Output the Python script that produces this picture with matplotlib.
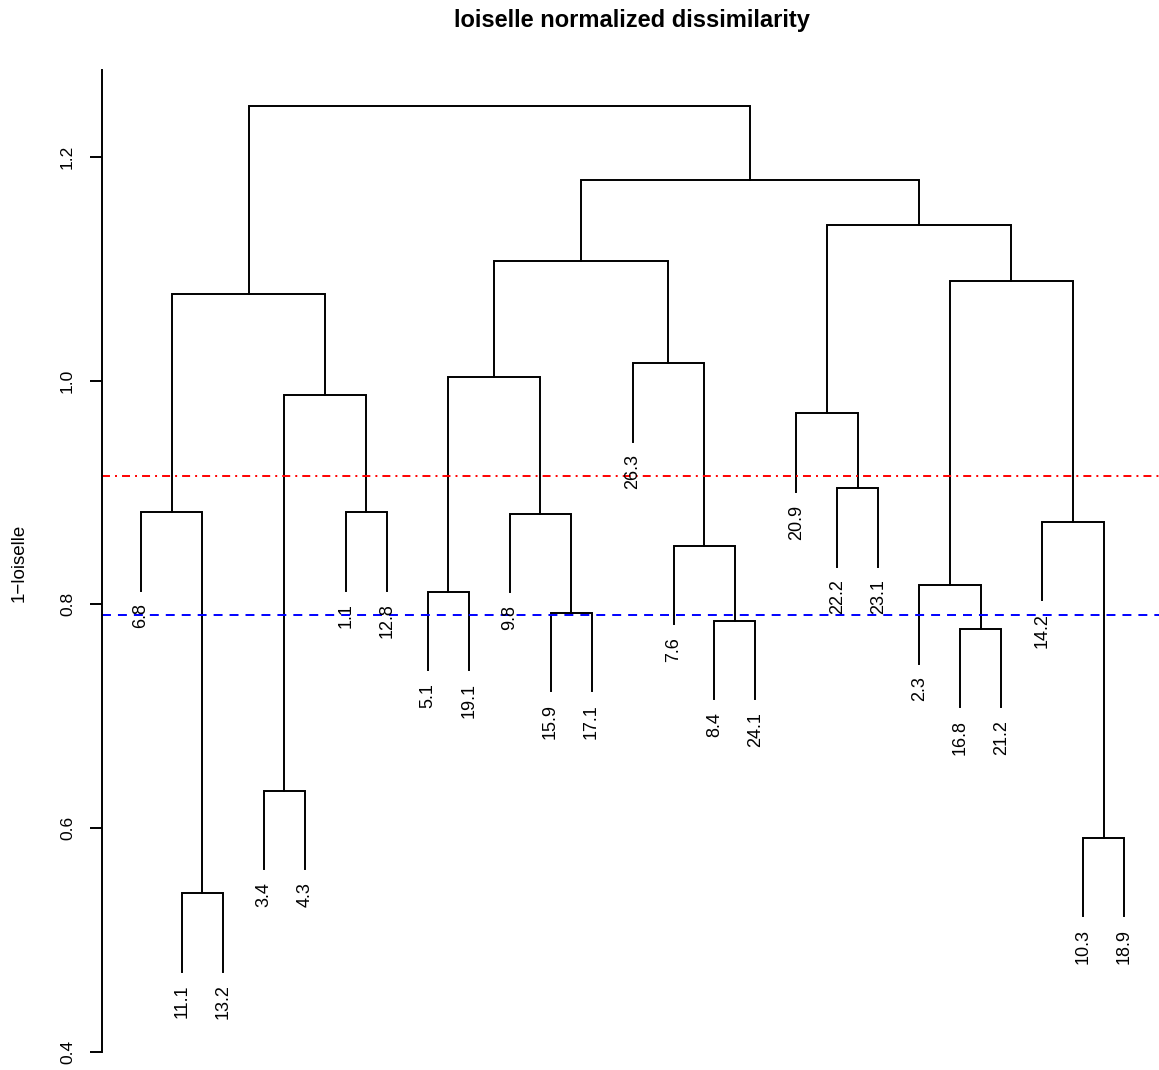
import matplotlib.pyplot as plt

plt.rcParams['font.family'] = ['Liberation Sans', 'DejaVu Sans']

# leaf labels in dendrogram order (leaf k sits at x = k)
labels = ['6.8', '11.1', '13.2', '3.4', '4.3', '1.1', '12.8', '5.1', '19.1',
          '9.8', '15.9', '17.1', '26.3', '7.6', '8.4', '24.1', '20.9', '22.2',
          '23.1', '2.3', '16.8', '21.2', '14.2', '10.3', '18.9']

# merge table, R style: negative = leaf, positive = earlier merge (1-based)
merge_a = [-2, -24, -4, -21, -15, -11, -8, -20, -14, -23, -10, -1,
           -6, -18, -17, 3, 7, -13, 12, 8, 17, 15, 21, 19]
merge_b = [-3, -25, -5, -22, -16, -12, -9, 4, 5, 2, 6, 1,
           -7, -19, 14, 13, 11, 9, 16, 10, 18, 20, 22, 23]
heights = [0.542, 0.5916, 0.6335, 0.7783, 0.7854, 0.7926, 0.8114, 0.8173,
           0.8525, 0.8739, 0.881, 0.8826, 0.8826, 0.9037, 0.9708, 0.9871,
           1.0029, 1.0155, 1.0771, 1.0893, 1.1071, 1.139, 1.1793, 1.2454]

cut_high = 0.915
cut_low = 0.7905

yticks = [0.4, 0.6, 0.8, 1.0, 1.2]
ytick_labels = ['0.4', '0.6', '0.8', '1.0', '1.2']

hang = 0.1 * (max(heights) - min(heights))

fig = plt.figure(figsize=(11.59, 10.70), dpi=100)
ax = fig.add_axes([0.0881, 0.0011, 0.9118, 0.9674])
ax.set_xlim(0.05, 25.85)
ax.set_ylim(0.385, 1.31)

node_x = {}


def child_pos(c, parent_h):
    if c < 0:
        return -c, parent_h - hang
    return node_x[c], heights[c - 1]


lw = 1.4
for i, (a, b, h) in enumerate(zip(merge_a, merge_b, heights), start=1):
    xa, ya = child_pos(a, h)
    xb, yb = child_pos(b, h)
    ax.plot([xa, xa, xb, xb], [ya, h, h, yb], color='black', lw=lw,
            solid_joinstyle='miter', clip_on=False)
    node_x[i] = (xa + xb) / 2
    for c, y in ((a, ya), (b, yb)):
        if c < 0:
            ax.annotate(labels[-c - 1], (-c, y), xytext=(0, -9),
                        textcoords='offset points', rotation=90,
                        ha='center', va='top', fontsize=13)

ax.axhline(cut_high, color='red', lw=1.4, linestyle=(0, (4.1, 2.6, 1.0, 2.6)))
ax.axhline(cut_low, color='blue', lw=1.4, linestyle=(0, (4.6, 3.6)))

for side in ('top', 'right', 'bottom'):
    ax.spines[side].set_visible(False)
ax.spines['left'].set_bounds(0.4, 1.278)
ax.spines['left'].set_linewidth(1.4)
ax.set_xticks([])
ax.set_yticks(yticks)
ax.set_yticklabels(ytick_labels, rotation=90, va='center')
ax.tick_params(axis='y', length=8.6, width=1.4, pad=11, labelsize=12.5)

fig.text(0.545, 0.981, 'loiselle normalized dissimilarity',
         ha='center', va='center', fontsize=17, fontweight='bold')
fig.text(19 / 1159, 0.474, '1\u2212loiselle', rotation=90,
         ha='center', va='center', fontsize=13.5)

fig.savefig('out.png', dpi=100)
